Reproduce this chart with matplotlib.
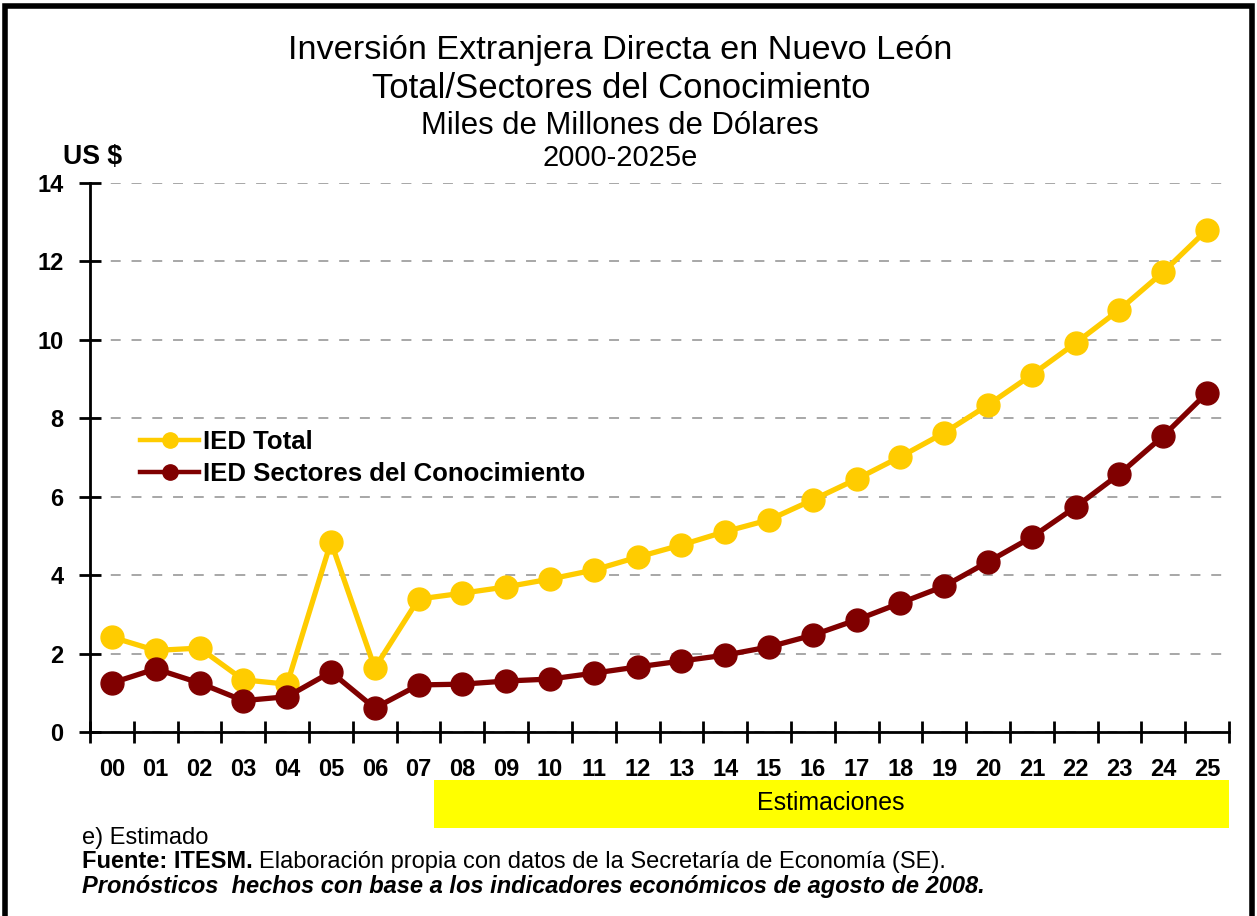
import matplotlib
matplotlib.use("Agg")
import matplotlib.pyplot as plt
from matplotlib.patches import Rectangle
import numpy as np

years = ["00", "01", "02", "03", "04", "05", "06", "07", "08", "09", "10", "11", "12",
         "13", "14", "15", "16", "17", "18", "19", "20", "21", "22", "23", "24", "25"]
ied_total = [2.42, 2.08, 2.14, 1.33, 1.22, 4.85, 1.63, 3.39, 3.54, 3.70, 3.90, 4.13, 4.46,
             4.77, 5.11, 5.41, 5.92, 6.45, 7.02, 7.63, 8.34, 9.11, 9.92, 10.77, 11.73, 12.81]
ied_conoc = [1.25, 1.61, 1.25, 0.80, 0.90, 1.53, 0.61, 1.20, 1.22, 1.30, 1.35, 1.50, 1.66,
             1.81, 1.96, 2.17, 2.47, 2.86, 3.29, 3.72, 4.34, 4.97, 5.74, 6.58, 7.55, 8.65]
y_ticks = [0, 2, 4, 6, 8, 10, 12, 14]

plt.rcParams["font.family"] = ["Liberation Sans", "DejaVu Sans"]

W, H = 1257, 916
fig = plt.figure(figsize=(12.57, 9.16), dpi=100)
ax = fig.add_axes([90 / W, 1 - 732 / H, (1229 - 90) / W, (732 - 183) / H])
renderer = fig.canvas.get_renderer()


def px(x, y):
    return x / W, 1 - y / H


def fit(t, width):
    # scale the font so the text spans about `width` pixels
    w = t.get_window_extent(renderer).width
    t.set_fontsize(t.get_fontsize() * width / w)
    return t


x = np.arange(len(years))
ax.plot(x, ied_total, color="#FFCC00", lw=3.8, marker="o", ms=16.5, label="IED Total", zorder=3)
ax.plot(x, ied_conoc, color="#800000", lw=3.8, marker="o", ms=16.5,
        label="IED Sectores del Conocimiento", zorder=4)

ax.set_xlim(-0.5, len(years) - 0.5)
ax.set_ylim(0, 14)
ax.set_yticks(y_ticks)
ax.set_yticklabels([str(v) for v in y_ticks], fontweight="bold", fontsize=17)
ax.set_xticks(x)
ax.set_xticklabels(years, fontweight="bold", fontsize=17)
ax.set_xticks(np.arange(len(years) + 1) - 0.5, minor=True)
ax.tick_params(axis="x", which="major", length=0, pad=19)
ax.tick_params(axis="x", which="minor", direction="inout", length=16, width=2)
ax.tick_params(axis="y", direction="inout", length=16, width=2, pad=11)
for s in ["top", "right"]:
    ax.spines[s].set_visible(False)
ax.spines["left"].set_linewidth(2)
ax.spines["bottom"].set_linewidth(2)
ax.yaxis.grid(True, ls=(0, (5.5, 6)), color="#A0A0A0", lw=1.3)
ax.set_axisbelow(True)

leg = ax.legend(loc="center left", bbox_to_anchor=(40 / 1139, (732 - 458) / 549), frameon=False,
                prop={"weight": "bold", "size": 18.5}, handlelength=2.3, labelspacing=0.3,
                handletextpad=0.15, borderaxespad=0)
for h in leg.legend_handles:
    h.set_markersize(11)
    h.set_linewidth(3.2)

# estimaciones band
fig.patches.append(Rectangle(px(434, 828), (1229 - 434) / W, 48 / H,
                             transform=fig.transFigure, facecolor="#FFFF00", edgecolor="none"))
fit(fig.text(*px(831, 803), "Estimaciones", ha="center", va="center", fontsize=18), 148)

# titles
fit(fig.text(*px(620, 50), "Inversión Extranjera Directa en Nuevo León",
             ha="center", va="center", fontsize=26), 666)
fit(fig.text(*px(621, 88), "Total/Sectores del Conocimiento",
             ha="center", va="center", fontsize=26), 498)
fit(fig.text(*px(620, 126), "Miles de Millones de Dólares",
             ha="center", va="center", fontsize=22), 395)
fit(fig.text(*px(620, 158), "2000-2025e", ha="center", va="center", fontsize=22), 155)
fit(fig.text(*px(63, 157), "US $", ha="left", va="center", fontsize=18, fontweight="bold"), 59)

# footer
note = fit(fig.text(*px(82, 886),
                    "Pronósticos  hechos con base a los indicadores económicos de agosto de 2008.",
                    ha="left", va="center", fontsize=15, fontweight="bold", fontstyle="italic"), 904)
fs = note.get_fontsize()
fig.text(*px(82, 838), "e) Estimado", ha="left", va="center", fontsize=fs)
bold = fig.text(*px(82, 862), "Fuente: ITESM.", ha="left", va="center", fontsize=fs,
                fontweight="bold")
bx = bold.get_window_extent(renderer).x1 + 6
fig.text(*px(bx, 862), "Elaboración propia con datos de la Secretaría de Economía (SE).",
         ha="left", va="center", fontsize=fs)

# outer frame
fig.patches.append(Rectangle((5 / W, -0.05), 1247 / W, 1.05 - 6 / H,
                             transform=fig.transFigure, fill=False, edgecolor="black", lw=4))

fig.savefig("out.png", dpi=100)
